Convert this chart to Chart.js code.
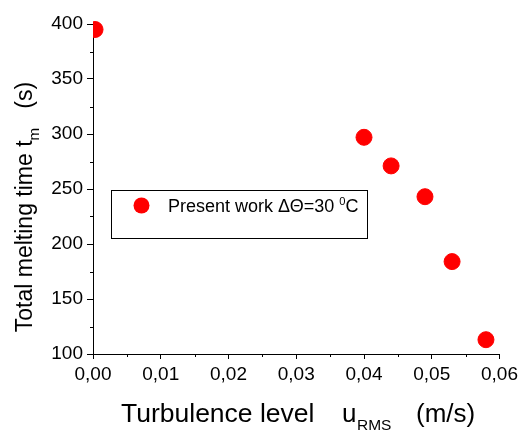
<!DOCTYPE html>
<html>
<head>
<meta charset="utf-8">
<script src="https://cdn.jsdelivr.net/npm/chart.js@4.4.0/dist/chart.umd.min.js"></script>
<style>
  html, body { margin: 0; padding: 0; background: #fff; }
  #wrap { width: 522px; height: 430px; }
</style>
</head>
<body>
<div id="wrap"><canvas id="chartviewport" width="522" height="430"></canvas></div>
<script>
// data
const uRms = [0.0003, 0.040, 0.044, 0.049, 0.053, 0.058];
const meltTime = [395, 297, 271, 243, 184, 113];
const xTicks = [0, 0.01, 0.02, 0.03, 0.04, 0.05, 0.06];
const yTicks = [100, 150, 200, 250, 300, 350, 400];
const xMinor = [0.005, 0.015, 0.025, 0.035, 0.045, 0.055];
const yMinor = [125, 175, 225, 275, 325, 375];
const seriesLabel = 'Present work \u0394\u0398=30 ';

const FONT = '"Liberation Sans", Arial, sans-serif';

// draws text with sub/superscript parts: [[text, 'n'|'sub'|'sup'], ...]
function richText(ctx, parts, x, y, size) {
    let cx = x;
    parts.forEach(p => {
        let s = size, dy = 0;
        if (p[1] === 'sub') { s = size * 0.66; dy = size * 0.32; }
        if (p[1] === 'sup') { s = size * 0.62; dy = -size * 0.38; }
        ctx.font = s + 'px ' + FONT;
        ctx.fillText(p[0], cx, y + dy);
        cx += ctx.measureText(p[0]).width;
    });
    return cx - x;
}
function richWidth(ctx, parts, size) {
    let w = 0;
    parts.forEach(p => {
        let s = p[1] === 'n' ? size : (p[1] === 'sub' ? size * 0.66 : size * 0.62);
        ctx.font = s + 'px ' + FONT;
        w += ctx.measureText(p[0]).width;
    });
    return w;
}

// the left edge of the plot cuts the first dot, as in the source
const clipLeft = {
    id: 'clipLeft',
    beforeDatasetsDraw(chart) {
        const a = chart.chartArea;
        chart.ctx.save();
        chart.ctx.beginPath();
        chart.ctx.rect(a.left, a.top - 12, a.right - a.left + 12, a.bottom - a.top + 24);
        chart.ctx.clip();
    },
    afterDatasetsDraw(chart) {
        chart.ctx.restore();
    }
};

const extras = {
    id: 'extras',
    afterDraw(chart) {
        const ctx = chart.ctx;
        const xs = chart.scales.x, ys = chart.scales.y;
        ctx.save();
        // minor ticks
        ctx.strokeStyle = '#000';
        ctx.lineWidth = 1;
        ctx.beginPath();
        xMinor.forEach(v => {
            const px = Math.round(xs.getPixelForValue(v)) + 0.5;
            ctx.moveTo(px, xs.top); ctx.lineTo(px, xs.top + 3);
        });
        yMinor.forEach(v => {
            const py = Math.round(ys.getPixelForValue(v)) + 0.5;
            ctx.moveTo(ys.right, py); ctx.lineTo(ys.right - 3, py);
        });
        ctx.stroke();

        ctx.fillStyle = '#000';
        ctx.textBaseline = 'alphabetic';
        // x title
        richText(ctx, [['Turbulence level', 'n']], 121, 422, 26.5);
        richText(ctx, [['u', 'n']], 342, 422, 26);
        richText(ctx, [['RMS', 'n']], 357, 430, 15.5);
        richText(ctx, [['(m/s)', 'n']], 416, 422, 26);
        // y title
        const yt = [['Total melting time t', 'n'], ['m', 'sub'], ['   (s)', 'n']];
        const yw = richWidth(ctx, yt, 23);
        ctx.translate(32, 207);
        ctx.rotate(-Math.PI / 2);
        richText(ctx, yt, -yw / 2, 0, 23);
        ctx.setTransform(1, 0, 0, 1, 0, 0);

        // legend box
        ctx.strokeStyle = '#000';
        ctx.strokeRect(111.5, 190.5, 256, 48);
        ctx.fillStyle = '#ff0000';
        ctx.beginPath();
        ctx.arc(141.5, 205.5, 8, 0, Math.PI * 2);
        ctx.fill();
        ctx.fillStyle = '#000';
        richText(ctx, [[seriesLabel, 'n'], ['0', 'sup'], ['C', 'n']], 168, 212, 18);
        ctx.restore();
    }
};

new Chart(document.getElementById('chartviewport'), {
    type: 'scatter',
    data: {
        datasets: [{
            label: seriesLabel,
            data: uRms.map((u, i) => ({ x: u, y: meltTime[i] })),
            backgroundColor: '#ff0000',
            borderColor: '#ff0000',
            pointRadius: 8,
            pointHoverRadius: 8,
            clip: false
        }]
    },
    options: {
        responsive: false,
        animation: false,
        events: [],
        layout: { padding: { top: 24, right: 20, left: 0, bottom: 0 } },
        plugins: { legend: { display: false }, tooltip: { enabled: false } },
        scales: {
            x: {
                type: 'linear', min: 0, max: 0.06,
                afterBuildTicks: s => { s.ticks = xTicks.map(v => ({ value: v })); },
                afterFit: s => { s.height = 76; },
                border: { color: '#000', width: 1 },
                grid: { drawOnChartArea: false, tickLength: 5, tickColor: '#000' },
                ticks: {
                    color: '#000', padding: 4, maxRotation: 0,
                    font: { family: FONT, size: 19 },
                    callback: v => v.toFixed(2).replace('.', ',')
                }
            },
            y: {
                min: 100, max: 400,
                afterBuildTicks: s => { s.ticks = yTicks.map(v => ({ value: v })); },
                afterFit: s => { s.width = 93; },
                border: { color: '#000', width: 1 },
                grid: { drawOnChartArea: false, tickLength: 6, tickColor: '#000' },
                ticks: {
                    color: '#000', padding: 4,
                    font: { family: FONT, size: 19 },
                    callback: v => String(v)
                }
            }
        }
    },
    plugins: [clipLeft, extras]
});
</script>
</body>
</html>
